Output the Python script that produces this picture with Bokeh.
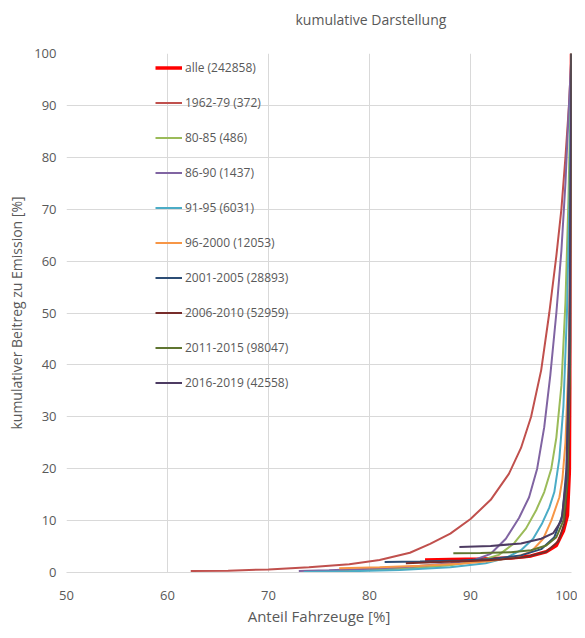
from bokeh.plotting import figure
from bokeh.models import Range1d, Legend, LegendItem, FixedTicker
from bokeh.embed import file_html
from bokeh.resources import INLINE

# ---------------- data ----------------
title_text = "kumulative Darstellung"
series_names = ["alle (242858)", "1962-79 (372)", "80-85 (486)", "86-90 (1437)",
                "91-95 (6031)", "96-2000 (12053)", "2001-2005 (28893)",
                "2006-2010 (52959)", "2011-2015 (98047)", "2016-2019 (42558)"]

alle_x = [85.5, 88, 91, 94, 96, 97.5, 98.5, 99.2, 99.6, 99.8, 99.92, 100]
alle_y = [2.4, 2.5, 2.6, 2.8, 3.2, 4.0, 5.2, 8.0, 11, 20, 45, 100]

s1962_x = [62.3, 66, 70, 74, 78, 81, 84, 86, 88, 90, 92, 93.8, 95, 96, 97, 97.8, 98.5, 99.0, 99.4, 99.75, 100]
s1962_y = [0.3, 0.35, 0.6, 1.0, 1.6, 2.4, 3.8, 5.5, 7.5, 10.3, 14, 19, 24, 30, 39, 50, 61, 70, 80, 90, 100]

s8085_x = [75.5, 80, 84, 88, 91, 92.8, 94.3, 95.5, 96.5, 97.3, 98.0, 98.5, 99.0, 99.4, 99.7, 100]
s8085_y = [0.3, 0.5, 0.8, 1.4, 2.3, 3.4, 5.6, 8.5, 12, 15.5, 20, 26, 36, 52, 72, 100]

s8690_x = [73, 76, 80, 84, 88, 90.5, 92, 93.5, 94.8, 95.8, 96.6, 97.3, 97.9, 98.5, 99.0, 99.4, 99.7, 100]
s8690_y = [0.3, 0.45, 0.7, 1.1, 1.8, 2.5, 3.6, 6.5, 10.5, 14.5, 20, 28, 38, 50, 62, 75, 88, 100]

s9195_x = [73.5, 78, 83, 88, 91.5, 93.5, 95, 96.2, 97.1, 97.8, 98.3, 98.8, 99.2, 99.55, 99.8, 100]
s9195_y = [0.1, 0.25, 0.5, 1.0, 1.8, 2.8, 4.3, 6.5, 9.5, 12.5, 15.5, 22, 32, 50, 72, 100]

s9600_x = [77, 81, 85, 89, 92, 94.5, 96, 97.2, 98.0, 98.8, 99.1, 99.4, 99.7, 99.9, 100]
s9600_y = [0.8, 1.0, 1.3, 1.7, 2.2, 3.0, 4.0, 6.5, 10, 14.5, 18, 25, 40, 65, 100]

s0105_x = [81.5, 85, 89, 92, 95, 97, 98.3, 99.1, 99.5, 99.8, 100]
s0105_y = [2.0, 2.1, 2.3, 2.6, 3.3, 4.5, 6.8, 11, 20, 45, 100]

s0610_x = [83.6, 87, 90, 93, 95.5, 97.5, 98.7, 99.3, 99.7, 99.9, 100]
s0610_y = [1.8, 2.0, 2.2, 2.5, 3.0, 4.0, 6.0, 9.5, 20, 45, 100]

s1115_x = [88.3, 91, 94, 96, 97.5, 98.5, 99.2, 99.6, 99.85, 100]
s1115_y = [3.7, 3.75, 3.9, 4.3, 5.2, 6.8, 10, 18, 40, 100]

s1619_x = [88.9, 92, 95, 97, 98.2, 99.0, 99.5, 99.8, 100]
s1619_y = [4.9, 5.1, 5.6, 6.5, 7.6, 10, 18, 40, 100]

x_ticks = [50, 60, 70, 80, 90, 100]
y_ticks = [0, 10, 20, 30, 40, 50, 60, 70, 80, 90, 100]

# ---------------- styling ----------------
colors = ["#FF0000", "#C0504D", "#9BBB59", "#8064A2", "#4BACC6", "#F79646",
          "#2C4D75", "#772C2A", "#5F7530", "#4D3B62"]
widths = [3.5, 2, 2, 2, 2, 2, 2, 2, 2, 2]
xs = [alle_x, s1962_x, s8085_x, s8690_x, s9195_x, s9600_x, s0105_x, s0610_x, s1115_x, s1619_x]
ys = [alle_y, s1962_y, s8085_y, s8690_y, s9195_y, s9600_y, s0105_y, s0610_y, s1115_y, s1619_y]

TXT = "#595959"
GRID = "#D9D9D9"
FONT = "Open Sans"
W, H = 577, 630

p = figure(width=W, height=H, output_backend="svg", toolbar_location=None,
           x_range=Range1d(50, 100), y_range=Range1d(0, 100),
           min_border_left=66, min_border_right=6, min_border_top=53, min_border_bottom=58)

p.title.text = title_text
p.title.align = "left"
p.title.offset = 229
p.title.text_font = FONT
p.title.text_font_size = "14px"
p.title.text_font_style = "normal"
p.title.text_color = TXT
try:
    p.title.padding = dict(left=0, right=0, top=0, bottom=25)
    p.title.standoff = 0
except Exception:
    p.title.standoff = 34

xax = p.below[0]
yax = p.left[0]

p.outline_line_color = None
p.background_fill_color = "white"
p.border_fill_color = "white"

p.xgrid.grid_line_color = GRID
p.ygrid.grid_line_color = GRID
xax.ticker = FixedTicker(ticks=x_ticks)
yax.ticker = FixedTicker(ticks=y_ticks)

for ax in (xax, yax):
    ax.major_tick_in = 0
    ax.major_tick_out = 0
    ax.minor_tick_in = 0
    ax.minor_tick_out = 0
    ax.major_label_text_font = FONT
    ax.major_label_text_font_size = "13px"
    ax.major_label_text_color = TXT
    ax.axis_label_text_font = FONT
    ax.axis_label_text_font_style = "normal"
    ax.axis_label_text_color = TXT

xax.axis_label_text_font_size = "15px"
xax.axis_line_color = GRID
xax.axis_label = "Anteil Fahrzeuge [%]"
xax.major_label_standoff = 18
xax.axis_label_standoff = 3

yax.axis_label_text_font_size = "14px"
yax.axis_line_color = None
yax.axis_label = "kumulativer Beitreg zu Emission [%]"
yax.major_label_standoff = 10
yax.axis_label_standoff = 5

renderers = []
for x, y, c, w in zip(xs, ys, colors, widths):
    r = p.line(x, y, line_color=c, line_width=w)
    renderers.append(r)

items = [LegendItem(label=n, renderers=[r]) for n, r in zip(series_names, renderers)]
legend = Legend(items=items, location=(89, 179), padding=0, margin=0, spacing=14,
                glyph_height=21, glyph_width=27, label_height=21, label_standoff=3,
                label_text_font=FONT, label_text_font_size="12px", label_text_color=TXT,
                border_line_alpha=0, background_fill_alpha=0)
p.add_layout(legend)

open("out.html", "w").write(file_html(p, INLINE))
